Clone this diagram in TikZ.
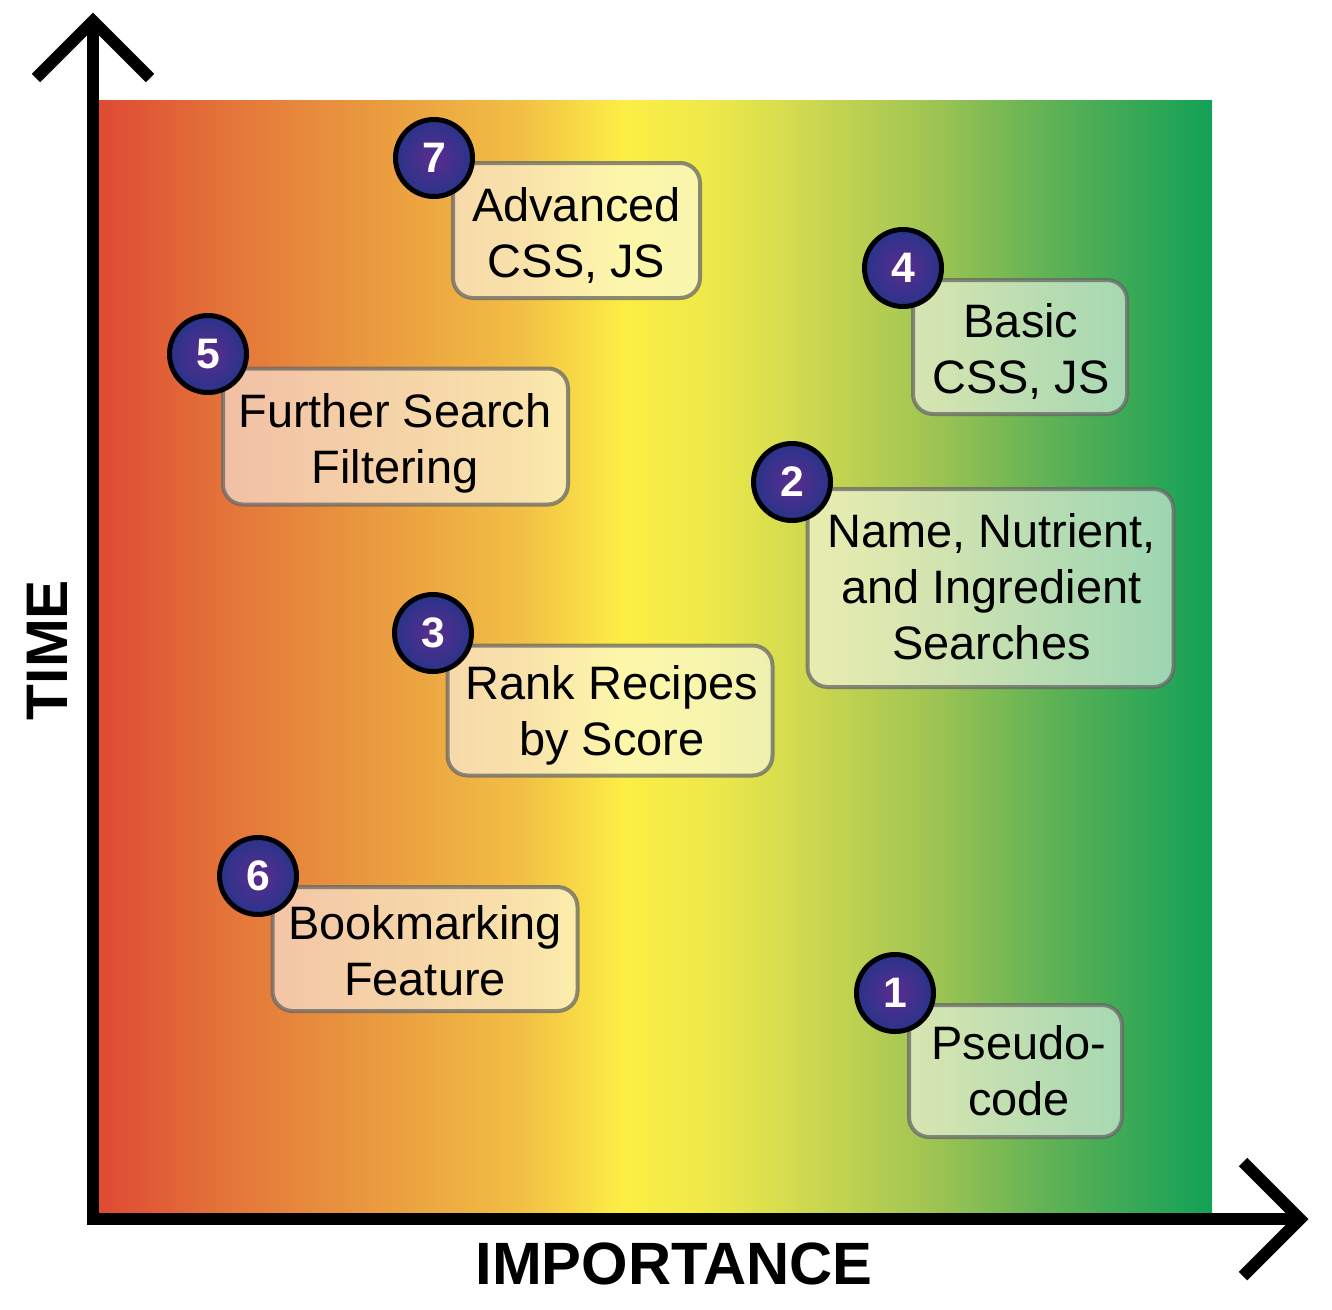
\documentclass[tikz,border=0pt]{standalone}
\usepackage{fontspec}
\setmainfont{Liberation Sans}

% colour stops of the importance band, red through yellow to green
\definecolor{gA}{RGB}{222,74,52}
\definecolor{gB}{RGB}{228,118,57}
\definecolor{gC}{RGB}{234,155,63}
\definecolor{gD}{RGB}{242,191,69}
\definecolor{gE}{RGB}{252,238,69}
\definecolor{gF}{RGB}{238,233,74}
\definecolor{gG}{RGB}{201,214,80}
\definecolor{gH}{RGB}{158,196,83}
\definecolor{gI}{RGB}{98,178,85}
\definecolor{gJ}{RGB}{18,161,87}
\definecolor{badgeIn}{RGB}{92,44,142}
\definecolor{badgeOut}{RGB}{40,52,138}

\pgfdeclarehorizontalshading{importancegrad}{100bp}{%
  color(0bp)=(gA); color(25bp)=(gA); color(31bp)=(gB); color(37.5bp)=(gC);
  color(44bp)=(gD); color(48.5bp)=(gE); color(52.5bp)=(gF); color(57.5bp)=(gG);
  color(62.5bp)=(gH); color(67.5bp)=(gI); color(75bp)=(gJ); color(100bp)=(gJ)}

\tikzset{
  axisline/.style={line width=9pt, line join=miter, line cap=butt},
  taskbox/.style={draw=black!60, draw opacity=0.75, fill=white, fill opacity=0.55,
    line width=3pt, rounded corners=15pt, inner sep=0pt, rectangle},
  tasktext/.style={align=center, inner sep=0pt, font=\fontsize{35.2}{42}\selectfont},
  badge/.style={circle, draw=black, line width=3.75pt, inner color=badgeIn,
    outer color=badgeOut, minimum size=57.75pt, inner sep=0pt, text=white,
    font=\fontsize{32}{36}\selectfont\bfseries},
  axislabel/.style={inner sep=0pt, font=\fontsize{44}{50}\selectfont\bfseries}
}

\newcommand{\taskitem}[9]{%
  % #1 id, #2 box centre x, #3 y, #4 width, #5 height, #6 text x, #7 text y, #8 badge (x,y), #9 text
  \node[taskbox, minimum width=#4*0.75pt, minimum height=#5*0.75pt] (box#1) at (#2,#3) {};
  \node[tasktext] (txt#1) at (#6,#7) {#9};
  \node[badge] (num#1) at #8 {#1};
}

\begin{document}
\begin{tikzpicture}[x=0.75pt,y=-0.75pt]
\useasboundingbox (0,0) rectangle (1332,1310);

% colour band
\shade[shading=importancegrad] (99,100) rectangle (1212,1213);

% tasks
\taskitem{7}{576.5}{230.5}{247}{135}{576.5}{235}{(434,158)}{Advanced\\CSS, JS}
\taskitem{4}{1020}{347}{214}{134}{1021}{351.5}{(903,268)}{Basic\\CSS, JS}
\taskitem{5}{395.5}{436.5}{345}{136}{395}{443}{(208,354)}{Further Search\\Filtering}
\taskitem{2}{990.5}{588}{366}{198}{991.5}{587}{(792,482)}{Name, Nutrient,\\and Ingredient\\Searches}
\taskitem{3}{610}{710.5}{325}{130}{612}{715.5}{(433,633)}{Rank Recipes\\by Score}
\taskitem{6}{425}{949}{305}{124}{425}{950.5}{(258,876)}{Bookmarking\\Feature}
\taskitem{1}{1015.5}{1071}{213}{132}{1019}{1070.5}{(895,993)}{Pseudo-\\code}

% axes
\coordinate (origin) at (93,1219);
\coordinate (ytip) at (93,21);
\coordinate (xtip) at (1300,1219);
\coordinate (yl) at (36,78);
\coordinate (yr) at (150,78);
\coordinate (xu) at (1243,1162);
\coordinate (xd) at (1243,1276);
\draw[axisline] (ytip) -- (origin) -- (xtip);
\draw[axisline] (yl) -- (ytip) -- (yr);
\draw[axisline] (xu) -- (xtip) -- (xd);

\node[axislabel, rotate=90] (timelabel) at (47,650) {TIME};
\node[axislabel, font=\fontsize{44.8}{50}\selectfont\bfseries] (implabel) at (674,1264) {IMPORTANCE};
\end{tikzpicture}
\end{document}
